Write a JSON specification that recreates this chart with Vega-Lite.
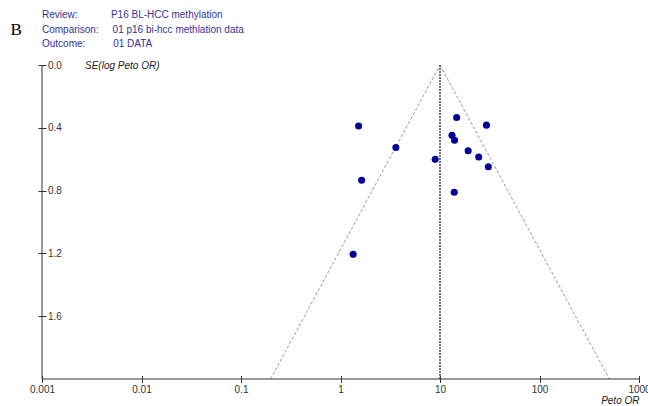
{
  "$schema": "https://vega.github.io/schema/vega-lite/v6.json",
  "width": 597,
  "height": 314,
  "autosize": {"type": "none"},
  "padding": {"left": 42, "top": 65, "right": 9, "bottom": 27},
  "background": "white",
  "config": {
    "view": {"stroke": null},
    "font": "Liberation Sans",
    "axis": {"grid": false, "labelFont": "Liberation Sans", "titleFont": "Liberation Sans"}
  },
  "title": {
    "text": [
      "Review:\u00a0\u00a0\u00a0\u00a0\u00a0\u00a0\u00a0\u00a0\u00a0\u00a0\u00a0\u00a0P16 BL-HCC methylation",
      "Comparison:\u00a0\u00a0\u00a0\u00a0\u00a001 p16 bi-hcc methlation data",
      "Outcome:\u00a0\u00a0\u00a0\u00a0\u00a0\u00a0\u00a0\u00a0\u00a0\u00a001 DATA"
    ],
    "anchor": "start",
    "frame": "group",
    "font": "Liberation Sans",
    "fontSize": 10,
    "fontWeight": "normal",
    "color": "#333399",
    "lineHeight": 14.4,
    "offset": -28
  },
  "datasets": {
    "studies": [
      {"study": 1, "peto_or": 1.52, "se": 0.389},
      {"study": 2, "peto_or": 3.60, "se": 0.525},
      {"study": 3, "peto_or": 1.63, "se": 0.734},
      {"study": 4, "peto_or": 8.95, "se": 0.601},
      {"study": 5, "peto_or": 14.7, "se": 0.334},
      {"study": 6, "peto_or": 29.3, "se": 0.383},
      {"study": 7, "peto_or": 13.2, "se": 0.448},
      {"study": 8, "peto_or": 14.0, "se": 0.479},
      {"study": 9, "peto_or": 19.2, "se": 0.546},
      {"study": 10, "peto_or": 24.5, "se": 0.586},
      {"study": 11, "peto_or": 30.6, "se": 0.648},
      {"study": 12, "peto_or": 13.9, "se": 0.810},
      {"study": 13, "peto_or": 1.34, "se": 1.206}
    ],
    "funnel": [
      {"line": "lower", "peto_or": 10, "se": 0},
      {"line": "lower", "peto_or": 0.1984, "se": 2},
      {"line": "upper", "peto_or": 10, "se": 0},
      {"line": "upper", "peto_or": 503.9, "se": 2}
    ],
    "pooled": [
      {"line": "pooled", "peto_or": 10, "se": 0},
      {"line": "pooled", "peto_or": 10, "se": 2}
    ]
  },
  "layer": [
    {
      "data": {"name": "funnel"},
      "mark": {"type": "line", "color": "#9a9a9a", "strokeWidth": 1, "strokeDash": [3, 2]},
      "encoding": {
        "x": {"field": "peto_or", "type": "quantitative", "scale": {"type": "log", "domain": [0.001, 1000]},
          "axis": {"values": [0.001, 0.01, 0.1, 1, 10, 100, 1000], "format": "~g", "orient": "bottom", "offset": -3.5, "tickSize": 7, "domain": false, "labelPadding": 2, "labelFontSize": 10, "labelColor": "#333", "tickColor": "#333", "labelFlush": false, "labelOverlap": false, "title": "Peto OR", "titleFontStyle": "italic", "titleFontWeight": "normal", "titleFontSize": 10, "titleColor": "#222", "titleAlign": "right", "titleX": 597, "titleY": 25, "titleBaseline": "middle"}},
        "y": {"field": "se", "type": "quantitative", "scale": {"domain": [0, 2], "reverse": true},
          "axis": {"values": [0, 0.4, 0.8, 1.2, 1.6], "format": ".1f", "orient": "left", "offset": -4, "tickSize": 8, "domain": false, "labelAlign": "left", "labelBaseline": "middle", "labelPadding": -9.5, "labelFontSize": 10, "labelColor": "#333", "tickColor": "#333", "labelFlush": false, "labelOverlap": false, "title": "SE(log Peto OR)", "titleAngle": 0, "titleX": 38.5, "titleY": 0, "titleAlign": "left", "titleBaseline": "middle", "titleFontStyle": "italic", "titleFontWeight": "normal", "titleFontSize": 10, "titleColor": "#222"}},
        "detail": {"field": "line"}
      }
    },
    {
      "data": {"name": "pooled"},
      "mark": {"type": "line", "color": "#444444", "strokeWidth": 1.5, "strokeDash": [2, 1]},
      "encoding": {
        "x": {"field": "peto_or", "type": "quantitative", "scale": {"type": "log", "domain": [0.001, 1000]}},
        "y": {"field": "se", "type": "quantitative", "scale": {"domain": [0, 2], "reverse": true}}
      }
    },
    {
      "data": {"values": [{"edge": "left"}]},
      "mark": {"type": "rule", "color": "#333", "strokeWidth": 1},
      "encoding": {
        "x": {"datum": 0.001, "type": "quantitative"},
        "y": {"datum": 0, "type": "quantitative"},
        "y2": {"datum": 2}
      }
    },
    {
      "data": {"values": [{"edge": "bottom"}]},
      "mark": {"type": "rule", "color": "#333", "strokeWidth": 1},
      "encoding": {
        "x": {"datum": 0.001, "type": "quantitative"},
        "x2": {"datum": 1000},
        "y": {"datum": 2, "type": "quantitative"}
      }
    },
    {
      "data": {"name": "studies"},
      "mark": {"type": "point", "filled": true, "shape": "circle", "size": 50, "color": "#000099", "opacity": 1},
      "encoding": {
        "x": {"field": "peto_or", "type": "quantitative", "scale": {"type": "log", "domain": [0.001, 1000]}},
        "y": {"field": "se", "type": "quantitative", "scale": {"domain": [0, 2], "reverse": true}}
      }
    },
    {
      "data": {"values": [{"panel": "B"}]},
      "mark": {"type": "text", "font": "Liberation Serif", "fontSize": 17, "align": "left", "baseline": "middle", "color": "#000"},
      "encoding": {
        "text": {"field": "panel"},
        "x": {"datum": 0.000482, "type": "quantitative"},
        "y": {"datum": -0.223, "type": "quantitative"}
      }
    }
  ]
}
